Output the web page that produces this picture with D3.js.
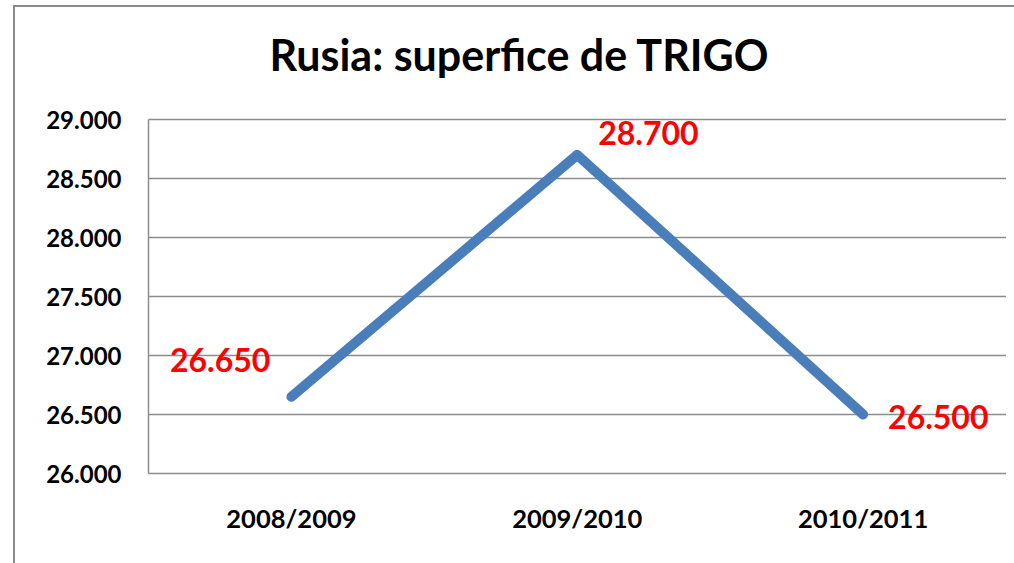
<!DOCTYPE html>
<html>
<head>
<meta charset="utf-8">
<style>
body { margin:0; background:#ffffff; }
svg { display:block; font-family: Lato, "Open Sans", sans-serif; }
</style>
<script src="https://cdnjs.cloudflare.com/ajax/libs/d3/7.8.5/d3.min.js"></script>
</head>
<body>
<svg id="chart" width="1014" height="563"></svg>
<script>
// data
var campaigns = ["2008/2009", "2009/2010", "2010/2011"];
var superficie = [26650, 28700, 26500];
var yTicks = [26000, 26500, 27000, 27500, 28000, 28500, 29000];
var chartTitle = "Rusia: superfice de TRIGO";

var svg = d3.select("#chart");
// Spanish thousands: 26650 -> "26.650"
function esNum(v) { return d3.format(",")(v).replace(/,/g, "."); }

var plotL = 148.5, plotR = 1006, plotT = 119.5, plotB = 473.5;

var x = d3.scaleBand().domain(campaigns).range([plotL, plotR]);
var y = d3.scaleLinear().domain([26000, 29000]).range([plotB, plotT]);

// outer frame
svg.append("rect").attr("x", 14).attr("y", 6).attr("width", 1010).attr("height", 570)
	.attr("fill", "none").attr("stroke", "#8a8a8a").attr("stroke-width", 2);

// title
svg.append("text").text(chartTitle)
	.attr("x", 519).attr("y", 71).attr("text-anchor", "middle")
	.style("font-size", "43px").style("font-weight", "bold").attr("fill", "#000");

// gridlines
svg.append("g").selectAll("line").data(yTicks).enter().append("line")
	.attr("x1", plotL).attr("x2", plotR)
	.attr("y1", function(d) { return y(d); }).attr("y2", function(d) { return y(d); })
	.attr("stroke", "#8c8c8c").attr("stroke-width", 1.5);

// left axis line
svg.append("line").attr("x1", plotL).attr("x2", plotL).attr("y1", plotT).attr("y2", plotB)
	.attr("stroke", "#8c8c8c").attr("stroke-width", 1.5);

// y axis labels
var yAxis = d3.axisLeft(y).tickValues(yTicks).tickSize(0).tickPadding(27).tickFormat(esNum);
var gy = svg.append("g").attr("transform", "translate(" + plotL + ",0)").call(yAxis);
gy.select(".domain").remove();
gy.selectAll("text").style("font-size", "24px").style("font-weight", "bold")
	.style("font-family", "Lato, 'Open Sans', sans-serif").attr("fill", "#000").attr("dy", "0.36em");

// x axis labels
var xAxis = d3.axisBottom(x).tickSize(0).tickPadding(36);
var gx = svg.append("g").attr("transform", "translate(0," + plotB + ")").call(xAxis);
gx.select(".domain").remove();
gx.selectAll("text").style("font-size", "25.5px").style("font-weight", "bold")
	.style("font-family", "Lato, 'Open Sans', sans-serif").attr("fill", "#000");

// line
var pts = campaigns.map(function(c, i) { return [x(c) + x.bandwidth() / 2, y(superficie[i])]; });
svg.append("path").attr("d", d3.line()(pts))
	.attr("fill", "none").attr("stroke", "#4a7ebb").attr("stroke-width", 10)
	.attr("stroke-linecap", "round").attr("stroke-linejoin", "round");

// value labels
var labelOffsets = [[-21, -25, "end"], [21, -10, "start"], [25, 14, "start"]];
svg.append("g").selectAll("text").data(superficie).enter().append("text")
	.text(function(d) { return esNum(d); })
	.attr("x", function(d, i) { return pts[i][0] + labelOffsets[i][0]; })
	.attr("y", function(d, i) { return pts[i][1] + labelOffsets[i][1]; })
	.attr("text-anchor", function(d, i) { return labelOffsets[i][2]; })
	.style("font-size", "32px").style("font-weight", "bold").attr("fill", "#ff0000");
</script>
</body>
</html>
